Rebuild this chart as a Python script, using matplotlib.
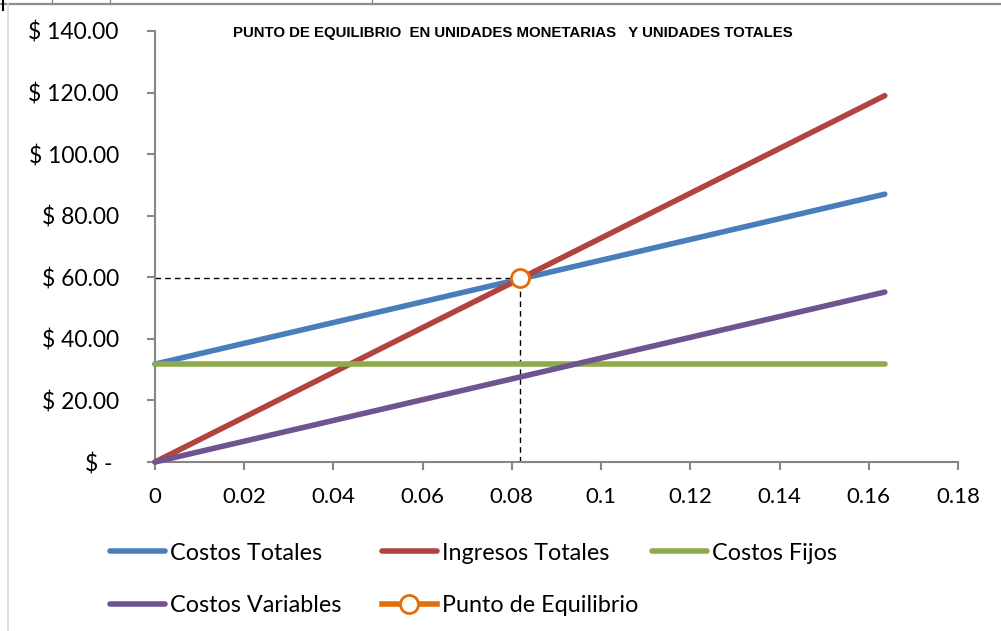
import matplotlib
matplotlib.use("Agg")
import matplotlib.pyplot as plt
from matplotlib.lines import Line2D
from matplotlib.ticker import FuncFormatter, MultipleLocator

# --- datos ---
unidades = [0, 0.1636]
costos_totales = [31.8, 87.0]
ingresos_totales = [0, 119.0]
costos_fijos = [31.8, 31.8]
costos_variables = [0, 55.2]
eq_x = 0.0818
eq_y = 59.8

plt.rcParams['font.family'] = ['Lato', 'DejaVu Sans']

fig = plt.figure(figsize=(10.01, 6.31), dpi=100)
ax = fig.add_axes([0.1548, 0.2678, 0.8022, 0.6831])

c_ct = '#4A7EBB'
c_it = '#B3433F'
c_cf = '#8EAA4C'
c_cv = '#70548F'
c_pe = '#E46C0A'
lw = 4.0

# lineas guia del punto de equilibrio
ax.plot([0, eq_x], [eq_y, eq_y], color='black', lw=1, ls=(0, (4, 3)), zorder=2)
ax.plot([eq_x, eq_x], [0, eq_y], color='black', lw=1, ls=(0, (4, 3)), zorder=2)

l_ct, = ax.plot(unidades, costos_totales, color=c_ct, lw=lw, solid_capstyle='round', label='Costos Totales', zorder=3)
l_it, = ax.plot(unidades, ingresos_totales, color=c_it, lw=lw, solid_capstyle='round', label='Ingresos Totales', zorder=3)
l_cf, = ax.plot(unidades, costos_fijos, color=c_cf, lw=lw, solid_capstyle='round', label='Costos Fijos', zorder=3)
l_cv, = ax.plot(unidades, costos_variables, color=c_cv, lw=lw, solid_capstyle='round', label='Costos Variables', zorder=3)
l_pe, = ax.plot([eq_x], [eq_y], marker='o', ms=13, mfc='white', mec=c_pe, mew=2,
                color=c_pe, lw=lw, label='Punto de Equilibrio', zorder=4)

ax.set_xlim(0, 0.18)
ax.set_ylim(0, 140)
ax.xaxis.set_major_locator(MultipleLocator(0.02))
ax.yaxis.set_major_locator(MultipleLocator(20))


def fmt_y(v, pos):
    if abs(v) < 1e-9:
        return '$ - '
    return '$ %.2f' % v


def fmt_x(v, pos):
    if abs(v) < 1e-9:
        return '0'
    return ('%.2f' % v).rstrip('0')


ax.yaxis.set_major_formatter(FuncFormatter(fmt_y))
ax.xaxis.set_major_formatter(FuncFormatter(fmt_x))

for s in ['top', 'right']:
    ax.spines[s].set_visible(False)
for s in ['left', 'bottom']:
    ax.spines[s].set_color('#868686')
    ax.spines[s].set_linewidth(1.5)
ax.tick_params(axis='both', direction='out', color='#868686', width=1.5,
               length=6, labelcolor='black')
ax.tick_params(axis='y', pad=20, labelsize=16.5)
ax.tick_params(axis='x', pad=12, labelsize=16)
for ln in ax.lines:
    ln.set_clip_on(False)

fig.text(0.5125, 0.948, 'PUNTO DE EQUILIBRIO  EN UNIDADES MONETARIAS   Y UNIDADES TOTALES',
         ha='center', va='center', fontsize=10.8, fontweight='bold',
         family=['Liberation Sans', 'DejaVu Sans'])

# leyenda: una por columna para respetar las posiciones
columnas = [([l_ct, l_cv], 110), ([l_it, l_pe], 382), ([l_cf], 652)]
for hs, px in columnas:
    leg = fig.legend(handles=hs, loc='upper left', bbox_to_anchor=(px / 1001, 0.140),
                     frameon=False, fontsize=16.8, handlelength=2.35,
                     handletextpad=0.2, labelspacing=1.33, borderpad=0,
                     borderaxespad=0)

# bordes del area del grafico
fig.add_artist(Line2D([0, 1], [1 - 4 / 631, 1 - 4 / 631], color='#8c8c8c', lw=1.6))
fig.add_artist(Line2D([8 / 1001, 8 / 1001], [0, 1 - 4 / 631], color='#d9d9d9', lw=1.2))
fig.add_artist(Line2D([3 / 1001, 3 / 1001], [1 - 10 / 631, 1], color='black', lw=1.5))
for px in [52, 110, 372]:
    fig.add_artist(Line2D([px / 1001, px / 1001], [1 - 4 / 631, 1], color='#8c8c8c', lw=1))

fig.savefig('out.png', dpi=100)
